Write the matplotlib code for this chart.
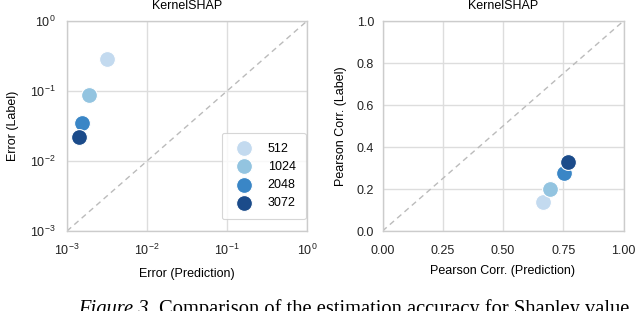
import matplotlib
matplotlib.use("Agg")
import matplotlib.pyplot as plt
import numpy as np

plt.rcParams['font.family'] = ['Liberation Sans', 'DejaVu Sans']
plt.rcParams['mathtext.fontset'] = 'custom'
plt.rcParams['mathtext.rm'] = 'Liberation Sans'
plt.rcParams['mathtext.it'] = 'Liberation Sans:italic'

budgets = ['512', '1024', '2048', '3072']
colors = ['#c3daef', '#93c4e0', '#3a86c6', '#1b4b8a']
err_pred = [0.00316, 0.00188, 0.00154, 0.00141]
err_label = [0.286, 0.088, 0.035, 0.022]
corr_pred = [0.666, 0.694, 0.752, 0.769]
corr_label = [0.14, 0.199, 0.278, 0.327]

fig = plt.figure(figsize=(6.4, 3.11), dpi=100)
ax1 = fig.add_axes([67/640, 1-231/311, 240/640, 210/311])
ax2 = fig.add_axes([382.5/640, 1-231/311, 241/640, 210/311])

grid_c = '#dddddd'
for ax in (ax1, ax2):
    ax.set_facecolor('white')
    ax.grid(True, color=grid_c, linewidth=1.0)
    ax.set_axisbelow(True)
    for s in ax.spines.values():
        s.set_color('#cccccc')
        s.set_linewidth(1.0)
    ax.tick_params(which='both', length=0, labelsize=9, colors='#222222')
ax1.tick_params(axis='x', pad=8.5)
ax2.tick_params(axis='x', pad=10)
ax1.tick_params(axis='y', pad=8)
ax2.tick_params(axis='y', pad=6)

# Left: error
ax1.set_xscale('log')
ax1.set_yscale('log')
ax1.plot([1e-3, 1], [1e-3, 1], ls=(0, (4, 3)), color='#bbbbbb', lw=1.0, zorder=1)
for b, c, x, y in zip(budgets, colors, err_pred, err_label):
    ax1.scatter([x], [y], s=130, color=c, edgecolor='white', linewidth=0.8, label=b, zorder=3)
ax1.set_xlim(1e-3, 1)
ax1.set_ylim(1e-3, 1)
ax1.set_xticks([1e-3, 1e-2, 1e-1, 1])
ax1.set_yticks([1e-3, 1e-2, 1e-1, 1])
ax1.minorticks_off()
ax1.set_xlabel('Error (Prediction)', fontsize=9, labelpad=7)
ax1.set_ylabel('Error (Label)', fontsize=9, labelpad=8)
ax1.set_title('KernelSHAP', fontsize=9, pad=8.3)
leg = ax1.legend(loc='lower right', fontsize=9, frameon=True, borderpad=0.8,
                 labelspacing=0.5, handletextpad=0.9, markerscale=1.0,
                 borderaxespad=0.1, bbox_to_anchor=(1.0, 0.05))
leg.get_frame().set_edgecolor('#cccccc')
leg.get_frame().set_linewidth(0.8)

# Right: correlation
ax2.plot([0, 1], [0, 1], ls=(0, (4, 3)), color='#bbbbbb', lw=1.0, zorder=1)
for b, c, x, y in zip(budgets, colors, corr_pred, corr_label):
    ax2.scatter([x], [y], s=130, color=c, edgecolor='white', linewidth=0.8, label=b, zorder=3)
ax2.set_xlim(0, 1)
ax2.set_ylim(0, 1)
ax2.set_xticks([0, 0.25, 0.5, 0.75, 1.0])
ax2.set_xticklabels(['0.00', '0.25', '0.50', '0.75', '1.00'])
ax2.set_yticks([0, 0.2, 0.4, 0.6, 0.8, 1.0])
ax2.set_yticklabels(['0.0', '0.2', '0.4', '0.6', '0.8', '1.0'])
ax2.set_xlabel('Pearson Corr. (Prediction)', fontsize=9, labelpad=6)
ax2.set_ylabel('Pearson Corr. (Label)', fontsize=9, labelpad=7)
ax2.set_title('KernelSHAP', fontsize=9, pad=8.3)

# Caption (cut off at bottom, as in the reference)
t1 = fig.text(78/640, -3/311, 'Figure 3.', fontsize=14.8, family='Liberation Serif',
              style='italic', va='baseline', ha='left')
fig.canvas.draw()
bb = t1.get_window_extent(renderer=fig.canvas.get_renderer())
fig.text((bb.x1 + 5) / 640, -3/311, 'Comparison of the estimation accuracy for Shapley value',
         fontsize=14.8, family='Liberation Serif', va='baseline', ha='left')

fig.savefig('out.png', dpi=100)
